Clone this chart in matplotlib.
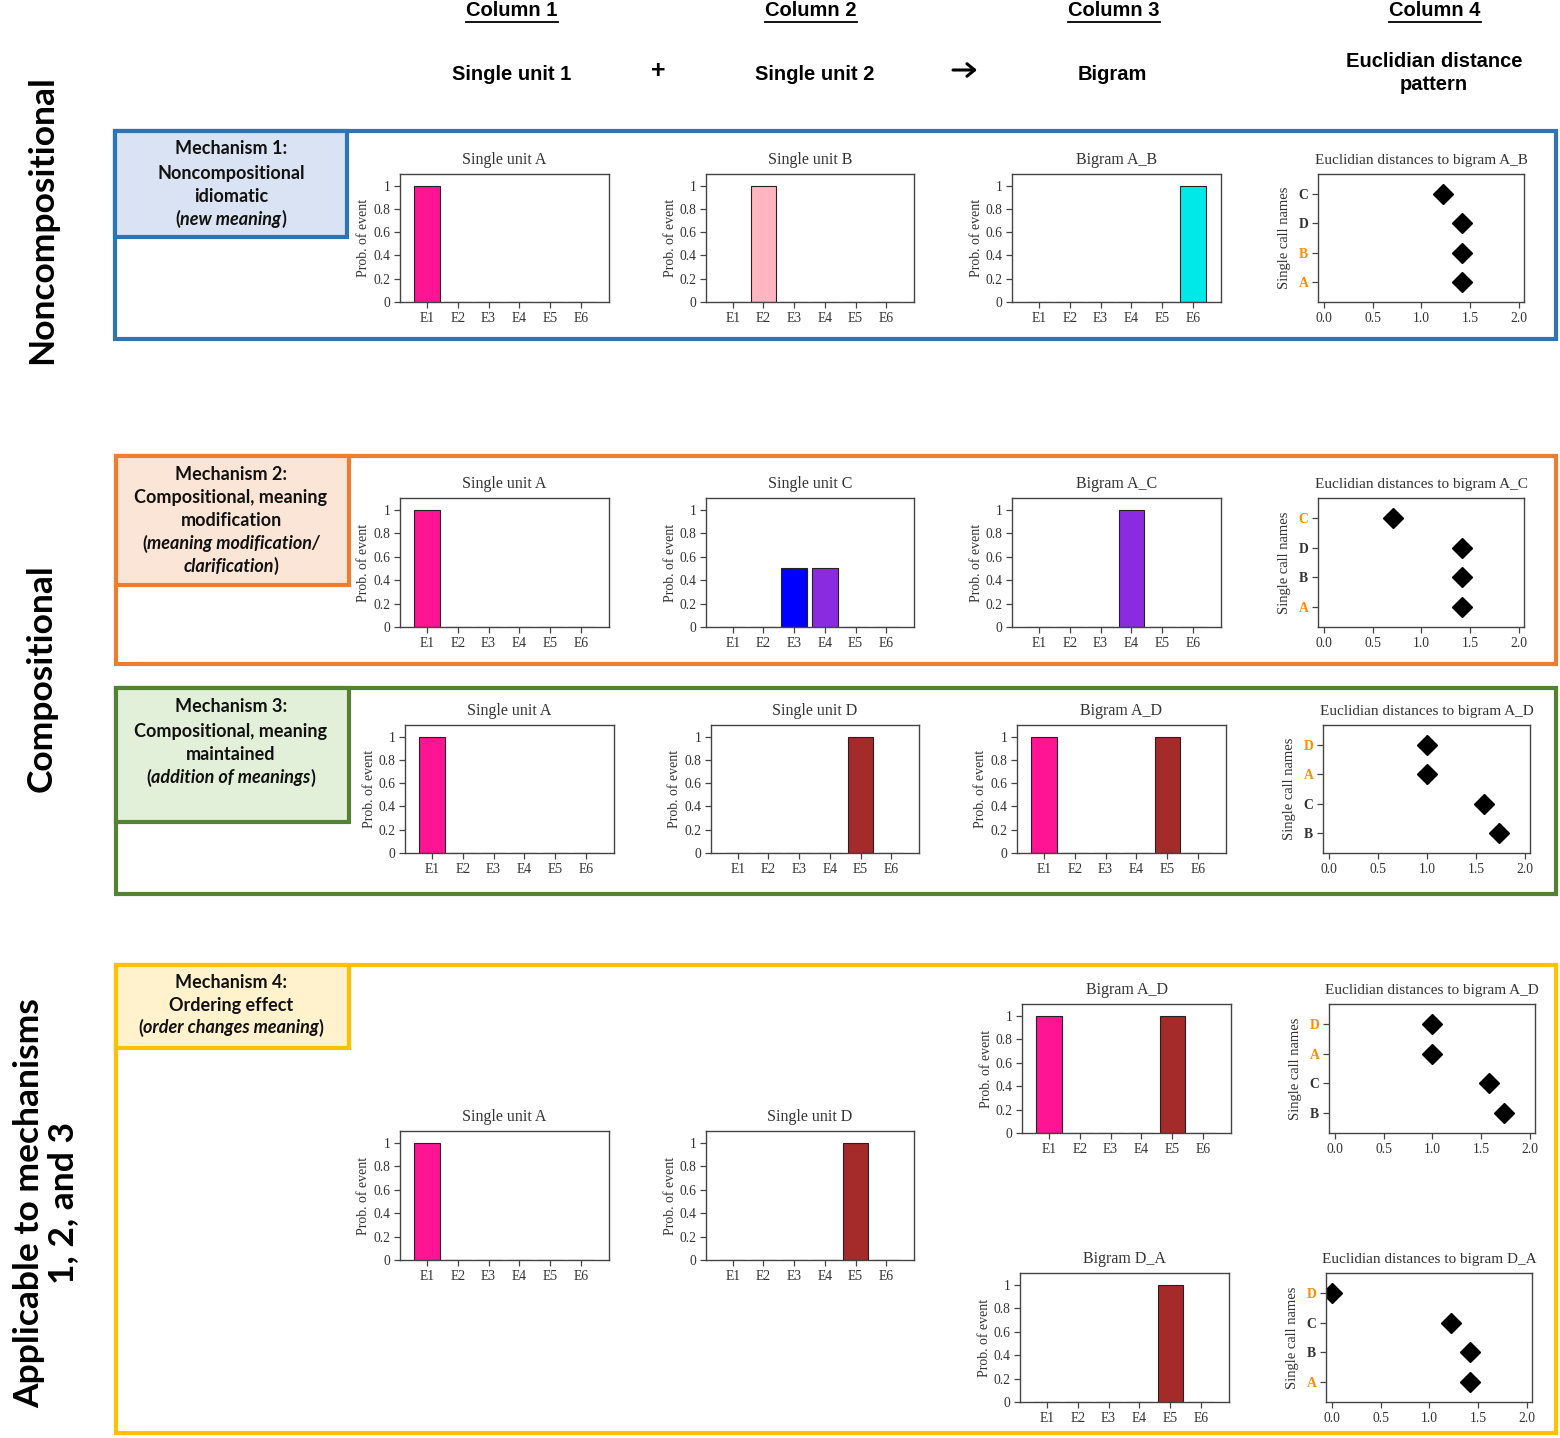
import numpy as np
import matplotlib
matplotlib.use('Agg')
import matplotlib.pyplot as plt
from matplotlib.patches import Rectangle

# ---------------- data ----------------
events = ['E1', 'E2', 'E3', 'E4', 'E5', 'E6']
event_colors = ['#FF1493', '#FFB6C1', '#0000FF', '#8A2BE2', '#A52A2A', '#00E8E8']

unit_A = [1, 0, 0, 0, 0, 0]
unit_B = [0, 1, 0, 0, 0, 0]
unit_C = [0, 0, 0.5, 0.5, 0, 0]
unit_D = [0, 0, 0, 0, 1, 0]
bigram_A_B = [0, 0, 0, 0, 0, 1]
bigram_A_C = [0, 0, 0, 1, 0, 0]
bigram_A_D = [1, 0, 0, 0, 1, 0]
bigram_D_A = [0, 0, 0, 0, 1, 0]

prob_ticks = [0, 0.2, 0.4, 0.6, 0.8, 1]
prob_tick_labels = ['0', '0.2', '0.4', '0.6', '0.8', '1']
dist_ticks = [0.0, 0.5, 1.0, 1.5, 2.0]
dist_tick_labels = ['0.0', '0.5', '1.0', '1.5', '2.0']

# distances (listed bottom to top)
dist_AB_names = ['A', 'B', 'D', 'C']
dist_AB_vals = [1.414, 1.414, 1.414, 1.225]
dist_AC_names = ['A', 'B', 'D', 'C']
dist_AC_vals = [1.414, 1.414, 1.414, 0.707]
dist_AD_names = ['B', 'C', 'A', 'D']
dist_AD_vals = [1.732, 1.581, 1.0, 1.0]
dist_DA_names = ['A', 'B', 'C', 'D']
dist_DA_vals = [1.414, 1.414, 1.225, 0.0]

# ---------------- figure ----------------
W, H = 1560, 1438
fig = plt.figure(figsize=(W / 100, H / 100), dpi=100)
bg = fig.add_axes([0, 0, 1, 1])
bg.set_xlim(0, W)
bg.set_ylim(H, 0)
bg.axis('off')
renderer = fig.canvas.get_renderer()

SERIF = ['Liberation Serif', 'DejaVu Serif']
SANS = ['Liberation Sans', 'DejaVu Sans']
BOXF = ['Lato', 'DejaVu Sans']
TXT = '#333333'
ORANGE = '#FF8C00'


def ax_at(x0, y0, x1, y1):
    return fig.add_axes([x0 / W, 1 - y1 / H, (x1 - x0) / W, (y1 - y0) / H])


def style_axes(ax):
    for s in ax.spines.values():
        s.set_color('#444444')
        s.set_linewidth(1.0)
    ax.tick_params(direction='out', length=4, width=0.9, color='#444444',
                   labelsize=9.8, labelcolor=TXT, pad=3)
    for lbl in ax.get_xticklabels() + ax.get_yticklabels():
        lbl.set_fontfamily(SERIF)


def barplot(box, values, title):
    ax = ax_at(*box)
    x = np.arange(len(events))
    ax.bar(x, values, width=0.83, color=event_colors, edgecolor='#222222', linewidth=0.8)
    ax.set_xlim(-0.87, 5.9)
    ax.set_ylim(0, 1.1)
    ax.set_xticks(x)
    ax.set_xticklabels(events)
    ax.set_yticks(prob_ticks)
    ax.set_yticklabels(prob_tick_labels)
    ax.set_ylabel('Prob. of event', fontsize=10, color=TXT, family=SERIF, labelpad=2)
    ax.set_title(title, fontsize=11.5, color=TXT, family=SERIF, pad=7)
    style_axes(ax)
    return ax


def distplot(box, names, values, highlight, title):
    ax = ax_at(*box)
    y = np.arange(1, len(names) + 1)
    ax.plot(values, y, 'D', color='black', ms=10.5, linestyle='none')
    ax.set_xlim(-0.06, 2.05)
    ax.set_ylim(0.33, 4.67)
    ax.set_yticks(y)
    ax.set_yticklabels(names)
    ax.set_xticks(dist_ticks)
    ax.set_xticklabels(dist_tick_labels)
    ax.set_ylabel('Single call names', fontsize=10.5, color=TXT, family=SERIF, labelpad=5)
    ax.set_title(title, fontsize=11, color=TXT, family=SERIF, pad=7)
    style_axes(ax)
    for lbl, n in zip(ax.get_yticklabels(), names):
        lbl.set_fontweight('bold')
        lbl.set_color(ORANGE if n in highlight else TXT)
    return ax


# ---------------- frames ----------------
frames = [
    ((115, 131, 1556, 339), (115, 131, 347, 237), '#2E75B6', '#DAE3F3'),
    ((116, 456, 1556, 664), (116, 456, 349, 585), '#ED7D31', '#FBE5D6'),
    ((116, 688, 1556, 894), (116, 688, 349, 822), '#548235', '#E2F0D9'),
    ((116, 965, 1556, 1433), (116, 965, 349, 1048), '#FFC000', '#FFF2CC'),
]
for outer, inner, ec, fc in frames:
    x0, y0, x1, y1 = outer
    bg.add_patch(Rectangle((x0, y0), x1 - x0, y1 - y0, fill=False, ec=ec, lw=3))
    x0, y0, x1, y1 = inner
    bg.add_patch(Rectangle((x0, y0), x1 - x0, y1 - y0, fc=fc, ec=ec, lw=3))


def mixed_line(xc, y, segs, size=13):
    texts, widths = [], []
    for s, style in segs:
        t = bg.text(0, y, s, fontsize=size, family=BOXF, fontweight='bold',
                    fontstyle=style, va='center', ha='left', color='#111111')
        widths.append(t.get_window_extent(renderer).width)
        texts.append(t)
    x = xc - sum(widths) / 2
    for t, w in zip(texts, widths):
        t.set_x(x)
        x += w


N, I = 'normal', 'italic'
mech_lines = [
    [(149, [('Mechanism 1:', N)]), (173, [('Noncompositional', N)]), (196, [('idiomatic', N)]),
     (219, [('(', N), ('new meaning', I), (')', N)])],
    [(474, [('Mechanism 2:', N)]), (498, [('Compositional, meaning', N)]), (521, [('modification', N)]),
     (544, [('(', N), ('meaning modification/', I)]), (566, [('clarification', I), (')', N)])],
    [(707, [('Mechanism 3:', N)]), (732, [('Compositional, meaning', N)]), (755, [('maintained', N)]),
     (778, [('(', N), ('addition of meanings', I), (')', N)])],
    [(982, [('Mechanism 4:', N)]), (1006, [('Ordering effect', N)]),
     (1028, [('(', N), ('order changes meaning', I), (')', N)])],
]
for block in mech_lines:
    for y, segs in block:
        mixed_line(231, y, segs)

# ---------------- header ----------------
col_heads = [(512, 'Column 1'), (811, 'Column 2'), (1114, 'Column 3'), (1435, 'Column 4')]
for x, s in col_heads:
    t = bg.text(x, 11, s, fontsize=14.5, family=SANS, fontweight='bold', ha='center', va='center')
    bb = t.get_window_extent(renderer)
    yl = H - bb.y0 + 1
    bg.plot([bb.x0, bb.x1], [yl, yl], color='black', lw=1.3)

row2 = [(512, 74, 'Single unit 1'), (815, 74, 'Single unit 2'),
        (1112, 74, 'Bigram'), (1434, 73, 'Euclidian distance\npattern')]
for x, y, s in row2:
    bg.text(x, y, s, fontsize=14.5, family=SANS, fontweight='bold', ha='center', va='center',
            linespacing=1.3)
bg.text(658, 71, '+', fontsize=18, family=SANS, fontweight='bold', ha='center', va='center')
bg.annotate('', xy=(977, 70), xytext=(953, 70),
            arrowprops=dict(arrowstyle='->,head_length=0.55,head_width=0.45', lw=2.2,
                            color='black', shrinkA=0, shrinkB=0))

# ---------------- side labels ----------------
bg.text(42, 220, 'Noncompositional', rotation=90, fontsize=25.5, family=BOXF, fontweight='bold',
        ha='center', va='center')
bg.text(42, 678, 'Compositional', rotation=90, fontsize=25.5, family=BOXF, fontweight='bold',
        ha='center', va='center')
bg.text(46, 1203, 'Applicable to mechanisms\n1, 2, and 3', rotation=90, fontsize=25.5, family=BOXF,
        fontweight='bold', ha='center', va='center', multialignment='center', linespacing=1.05)

# ---------------- panels ----------------
# Mechanism 1
barplot((400, 174, 609, 302), unit_A, 'Single unit A')
barplot((706, 174, 914, 302), unit_B, 'Single unit B')
barplot((1012, 174, 1221, 302), bigram_A_B, 'Bigram A_B')
distplot((1318, 174, 1524, 302), dist_AB_names, dist_AB_vals, ['A', 'B'],
         'Euclidian distances to bigram A_B')
# Mechanism 2
barplot((400, 498, 609, 627), unit_A, 'Single unit A')
barplot((706, 498, 914, 627), unit_C, 'Single unit C')
barplot((1012, 498, 1221, 627), bigram_A_C, 'Bigram A_C')
distplot((1318, 498, 1524, 627), dist_AC_names, dist_AC_vals, ['A', 'C'],
         'Euclidian distances to bigram A_C')
# Mechanism 3
barplot((405, 725, 614, 853), unit_A, 'Single unit A')
barplot((711, 725, 919, 853), unit_D, 'Single unit D')
barplot((1017, 725, 1226, 853), bigram_A_D, 'Bigram A_D')
distplot((1323, 725, 1530, 853), dist_AD_names, dist_AD_vals, ['A', 'D'],
         'Euclidian distances to bigram A_D')
# Mechanism 4
barplot((400, 1131, 609, 1260), unit_A, 'Single unit A')
barplot((706, 1131, 914, 1260), unit_D, 'Single unit D')
barplot((1022, 1004, 1231, 1133), bigram_A_D, 'Bigram A_D')
distplot((1329, 1004, 1535, 1133), dist_AD_names, dist_AD_vals, ['A', 'D'],
         'Euclidian distances to bigram A_D')
barplot((1020, 1273, 1229, 1402), bigram_D_A, 'Bigram D_A')
distplot((1326, 1273, 1532, 1402), dist_DA_names, dist_DA_vals, ['A', 'D'],
         'Euclidian distances to bigram D_A')

fig.savefig('out.png', dpi=100, facecolor='white')
